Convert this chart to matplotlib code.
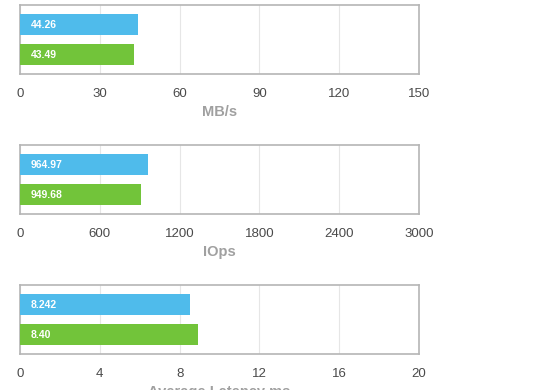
import matplotlib
matplotlib.use('Agg')
import matplotlib.pyplot as plt

plt.rcParams['font.family'] = ['Liberation Sans', 'DejaVu Sans']

# bar lengths, labels as printed on the bars
mbps_vals = [44.26, 43.0]
mbps_labels = ['44.26', '43.49']
iops_vals = [964.97, 908.0]
iops_labels = ['964.97', '949.68']
lat_vals = [8.5, 8.9]
lat_labels = ['8.242', '8.40']

panels = [
    (mbps_vals, mbps_labels, [0, 30, 60, 90, 120, 150], 'MB/s'),
    (iops_vals, iops_labels, [0, 600, 1200, 1800, 2400, 3000], 'IOps'),
    (lat_vals, lat_labels, [0, 4, 8, 12, 16, 20], 'Average Latency ms'),
]

colors = ['#4fbbeb', '#72c43a']
W, H = 560, 390
fig = plt.figure(figsize=(W / 100, H / 100), dpi=100)

tops = [5, 145, 285]
for (vals, labels, ticks, xlabel), top in zip(panels, tops):
    ax = fig.add_axes([20 / W, 1 - (top + 69) / H, 399 / W, 69 / H])
    ax.barh([0, 1], vals, height=0.667, color=colors, zorder=3)
    ax.set_ylim(1.65, -0.65)
    ax.set_xlim(ticks[0], ticks[-1])
    ax.set_xticks(ticks)
    ax.set_xticklabels([str(t) for t in ticks], color='#4a4a4a', fontsize=9.5)
    ax.set_yticks([])
    ax.tick_params(axis='x', length=0, pad=10)
    ax.grid(axis='x', color='#e6e6e6', linewidth=0.8, zorder=0)
    for s in ax.spines.values():
        s.set_color('#b5b5b5')
        s.set_linewidth(1.2)
    for i, lab in enumerate(labels):
        ax.annotate(lab, xy=(0, i), xytext=(8, 0), textcoords='offset points',
                    color='white', fontsize=7.5, fontweight='bold', va='center', ha='left', zorder=4)
    ax.set_xlabel(xlabel, color='#a0a0a0', fontsize=10.5, fontweight='bold', labelpad=4)

fig.savefig('out.png', dpi=100)
